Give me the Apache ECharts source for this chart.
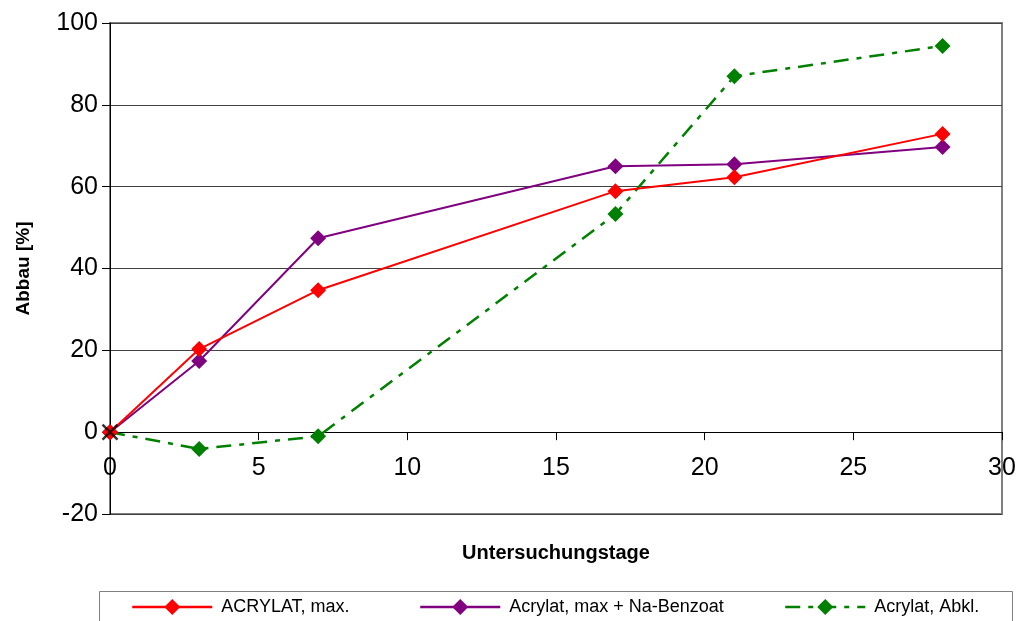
<!DOCTYPE html>
<html>
<head>
<meta charset="utf-8">
<script src="https://cdn.jsdelivr.net/npm/echarts@6/dist/echarts.min.js"></script>
<style>
  html, body { margin: 0; padding: 0; background: #fff; }
  #chart { width: 1021px; height: 621px; }
</style>
</head>
<body>
<div id="chart"></div>
<script>
// Untersuchungstage
var days = [0, 3, 7, 17, 21, 28];
// Abbau [%]
var acrylatMax = [0, 20.3, 34.7, 58.9, 62.3, 72.9];
var acrylatBenzoat = [0, 17.4, 47.4, 65.0, 65.5, 69.7];
var acrylatAbkl = [0, -4.1, -1.0, 53.3, 87.0, 94.4];
var seriesNames = ['ACRYLAT, max.', 'Acrylat, max + Na-Benzoat', 'Acrylat, Abkl.'];
var crossPoint = [[0, 0]];

function pairs(ys) {
    return days.map(function (d, i) { return [d, ys[i]]; });
}

var font = 'Liberation Sans, Arial, sans-serif';
var chart = echarts.init(document.getElementById('chart'));

var option = {
    animation: false,
    textStyle: { fontFamily: font },
    grid: {
        left: 110, right: 19, top: 23, bottom: 107,
        outerBoundsMode: 'none', containLabel: false,
        show: true, borderColor: '#808080', borderWidth: 2
    },
    xAxis: {
        type: 'value', min: 0, max: 30, interval: 5,
        name: 'Untersuchungstage', nameLocation: 'middle', nameGap: 29,
        nameTextStyle: { fontSize: 20, fontWeight: 'bold', color: '#000', fontFamily: font },
        axisLine: { onZero: true, lineStyle: { color: '#000', width: 1 } },
        axisTick: { show: true, length: 8, lineStyle: { color: '#000' } },
        axisLabel: { fontSize: 25, color: '#000', margin: -58, fontFamily: font },
        splitLine: { show: false }
    },
    yAxis: {
        type: 'value', min: -20, max: 100, interval: 20,
        name: 'Abbau [%]', nameLocation: 'middle', nameGap: 77,
        nameTextStyle: { fontSize: 19, fontWeight: 'bold', color: '#000', fontFamily: font },
        axisLine: { show: true, lineStyle: { color: '#000', width: 1 } },
        axisTick: { show: true, length: 8, lineStyle: { color: '#000' } },
        axisLabel: { fontSize: 25, color: '#000', margin: 12, fontFamily: font },
        splitLine: { show: true, lineStyle: { color: '#404040', width: 1 } }
    },
    graphic: [{
        type: 'rect',
        shape: { x: 99.5, y: 591.5, width: 913, height: 40 },
        style: { fill: 'none', stroke: '#808080', lineWidth: 1 }
    }],
    legend: [
        { data: [seriesNames[0]], left: 131, top: 598 },
        { data: [seriesNames[1]], left: 419, top: 598 },
        { data: [seriesNames[2]], left: 784, top: 598 }
    ].map(function (l) {
        l.padding = 0;
        l.itemWidth = 80;
        l.itemHeight = 20;
        l.lineStyle = { width: 2.5 };
        l.textStyle = { fontSize: 18, color: '#000', fontFamily: font, padding: [0, 0, 0, 4] };
        return l;
    }),
    series: [
        {
            name: seriesNames[0], type: 'line', data: pairs(acrylatMax),
            symbol: 'diamond', symbolSize: 16, z: 4,
            itemStyle: { color: '#ff0000' },
            lineStyle: { color: '#ff0000', width: 2 }
        },
        {
            name: seriesNames[1], type: 'line', data: pairs(acrylatBenzoat),
            symbol: 'diamond', symbolSize: 16, z: 3,
            itemStyle: { color: '#800080' },
            lineStyle: { color: '#800080', width: 2 }
        },
        {
            name: seriesNames[2], type: 'line', data: pairs(acrylatAbkl),
            symbol: 'diamond', symbolSize: 16, z: 2,
            itemStyle: { color: '#008000' },
            lineStyle: { color: '#008000', width: 2.5, type: [15, 8, 5, 8] }
        },
        {
            type: 'scatter', data: crossPoint, z: 20, zlevel: 1,
            symbol: 'path://M0,0L10,10M10,0L0,10', symbolSize: 15,
            itemStyle: { color: 'none', borderColor: '#000', borderWidth: 2.5 }
        }
    ]
};
chart.setOption(option);
</script>
</body>
</html>
